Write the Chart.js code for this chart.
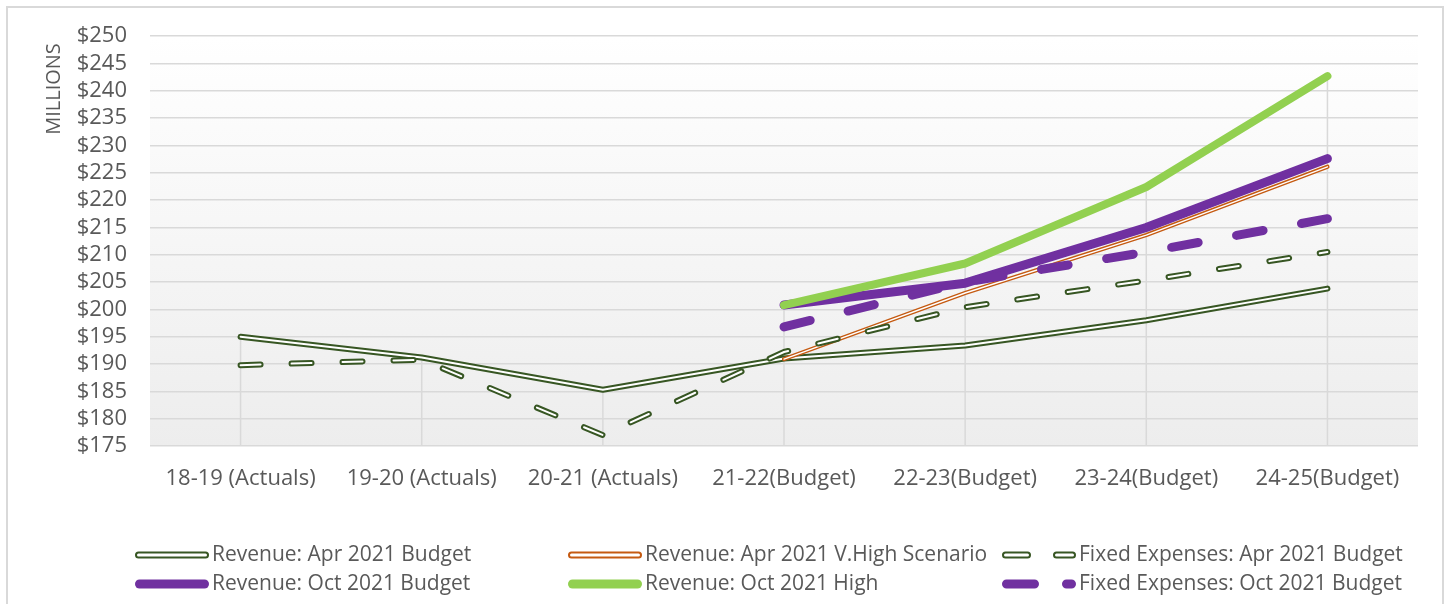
<!DOCTYPE html>
<html>
<head>
<meta charset="utf-8">
<script src="https://cdn.jsdelivr.net/npm/chart.js@4.4.1/dist/chart.umd.min.js"></script>
<style>
  html, body { margin: 0; padding: 0; background: #fff; overflow: hidden; }
  #wrap { position: relative; width: 1448px; height: 604px; }
  #frame { position: absolute; left: 6px; top: 6px; width: 1438px; height: 640px; border: 2px solid #d9d9d9; box-sizing: border-box; }
  canvas { position: absolute; left: 0; top: 0; }
</style>
</head>
<body>
<div id="wrap">
  <div id="frame"></div>
  <canvas id="revenueChart" width="1448" height="604"></canvas>
</div>
<script>
// Values in $ millions
var categories = ['18-19 (Actuals)', '19-20 (Actuals)', '20-21 (Actuals)', '21-22(Budget)', '22-23(Budget)', '23-24(Budget)', '24-25(Budget)'];
var seriesLabels = [
  'Revenue: Apr 2021 Budget',
  'Revenue: Apr 2021 V.High Scenario',
  'Fixed Expenses: Apr 2021 Budget',
  'Revenue: Oct 2021 Budget',
  'Revenue: Oct 2021 High',
  'Fixed Expenses: Oct 2021 Budget'
];
var revAprBudget = [195.0, 191.2, 185.3, 191.0, 193.4, 198.0, 203.8];
var revAprVHigh = [null, null, null, 190.9, 203.0, 213.6, 226.1];
var fixAprBudget = [189.8, 190.8, 177.0, 192.2, 200.4, 205.3, 210.5];
var revOctBudget = [null, null, null, 200.8, 204.8, 215.0, 227.6];
var revOctHigh = [null, null, null, 200.8, 208.4, 222.4, 242.7];
var fixOctBudget = [null, null, null, 196.8, 205.0, 210.5, 216.6];
var yTicks = { min: 175, max: 250, step: 5 };

var FONT = '"Open Sans", "Noto Sans", sans-serif';
var TEXT = '#595959';
var GRID = '#d9d9d9';

// line look per series: outer colour/width, optional white core (Excel double line), dash
var styles = [
  { color: '#375623', width: 6, inner: 2, dash: [], legendDash: [] },
  { color: '#c55a11', width: 4.2, inner: 1.4, dash: [], legendDash: [] },
  { color: '#375623', width: 6, inner: 2, dash: [20, 31], legendDash: [22, 29] },
  { color: '#7030a0', width: 9, inner: 0, dash: [], legendDash: [] },
  { color: '#92d050', width: 8, inner: 0, dash: [], legendDash: [] },
  { color: '#7030a0', width: 9, inner: 0, dash: [27, 39], legendDash: [28, 32] }
];
var allSeries = [revAprBudget, revAprVHigh, fixAprBudget, revOctBudget, revOctHigh, fixOctBudget];

function linePath(ctx, meta) {
  var started = false;
  ctx.beginPath();
  meta.data.forEach(function(pt) {
    if (pt.skip) return;
    if (!started) { ctx.moveTo(pt.x, pt.y); started = true; }
    else ctx.lineTo(pt.x, pt.y);
  });
}

var plotBackground = {
  id: 'plotBackground',
  beforeDraw: function(chart) {
    var a = chart.chartArea, ctx = chart.ctx;
    var g = ctx.createLinearGradient(0, a.top, 0, a.bottom);
    g.addColorStop(0, '#ffffff');
    g.addColorStop(1, '#ededed');
    ctx.save();
    ctx.fillStyle = g;
    ctx.fillRect(a.left, a.top, a.right - a.left, a.bottom - a.top);
    ctx.restore();
  }
};

// Excel drop lines: from the highest value of each category down to the axis
var dropLines = {
  id: 'dropLines',
  beforeDatasetsDraw: function(chart) {
    var ctx = chart.ctx, xs = chart.scales.x, ys = chart.scales.y;
    ctx.save();
    ctx.strokeStyle = GRID;
    ctx.lineWidth = 1.5;
    categories.forEach(function(c, i) {
      var top = null;
      allSeries.forEach(function(s) { if (s[i] != null && (top === null || s[i] > top)) top = s[i]; });
      if (top === null) return;
      var x = xs.getPixelForValue(i);
      ctx.beginPath();
      ctx.moveTo(x, ys.getPixelForValue(top));
      ctx.lineTo(x, chart.chartArea.bottom);
      ctx.stroke();
    });
    ctx.restore();
  }
};

// white core on top of the double lines
var doubleLine = {
  id: 'doubleLine',
  afterDatasetDraw: function(chart, args) {
    var st = styles[args.index];
    if (!st.inner) return;
    var ctx = chart.ctx;
    ctx.save();
    ctx.strokeStyle = '#ffffff';
    ctx.lineWidth = st.inner;
    ctx.lineCap = 'round';
    ctx.lineJoin = 'round';
    ctx.setLineDash(st.dash);
    linePath(ctx, args.meta);
    ctx.stroke();
    ctx.restore();
  }
};

function drawMarker(ctx, st, x0, y) {
  var len = 74;
  ctx.save();
  ctx.lineCap = 'round';
  ctx.setLineDash(st.legendDash);
  var w = st.inner ? 7 : 9;
  ctx.beginPath();
  ctx.moveTo(x0 + w / 2, y);
  ctx.lineTo(x0 + len - w / 2, y);
  ctx.strokeStyle = st.color;
  ctx.lineWidth = w;
  ctx.stroke();
  if (st.inner) {
    ctx.strokeStyle = '#ffffff';
    ctx.lineWidth = 3;
    ctx.stroke();
  }
  ctx.restore();
}

var gridLegend = {
  id: 'gridLegend',
  afterDraw: function(chart) {
    var ctx = chart.ctx;
    var colX = [135, 568, 1002];
    var rowY = [555, 584];
    ctx.save();
    ctx.font = '21px ' + FONT;
    ctx.textBaseline = 'middle';
    chart.data.datasets.forEach(function(ds, i) {
      var x = colX[i % 3], y = rowY[Math.floor(i / 3)];
      drawMarker(ctx, styles[i], x, y);
      ctx.fillStyle = TEXT;
      ctx.fillText(ds.label, x + 77, y);
    });
    ctx.restore();
  }
};

var unitLabel = {
  id: 'unitLabel',
  afterDraw: function(chart) {
    var ctx = chart.ctx;
    ctx.save();
    ctx.translate(54, 89);
    ctx.rotate(-Math.PI / 2);
    ctx.font = '20px ' + FONT;
    ctx.fillStyle = TEXT;
    ctx.textAlign = 'center';
    ctx.textBaseline = 'middle';
    ctx.fillText('MILLIONS', 0, 0);
    ctx.restore();
  }
};

function init() {
  var datasets = allSeries.map(function(s, i) {
    var st = styles[i];
    return {
      label: seriesLabels[i],
      data: s,
      borderColor: st.color,
      backgroundColor: st.color,
      borderWidth: st.width,
      borderDash: st.dash,
      borderCapStyle: 'round',
      borderJoinStyle: 'round',
      pointRadius: 0,
      tension: 0,
      fill: false,
      order: allSeries.length - i
    };
  });

  new Chart(document.getElementById('revenueChart').getContext('2d'), {
    type: 'line',
    data: { labels: categories, datasets: datasets },
    options: {
      responsive: false,
      animation: false,
      layout: { padding: { top: 36, right: 30, left: 0, bottom: 0 } },
      plugins: {
        legend: { display: false },
        title: { display: false },
        tooltip: { enabled: false }
      },
      scales: {
        x: {
          offset: true,
          grid: { display: false },
          border: { display: false },
          ticks: { color: TEXT, font: { family: FONT, size: 22 }, padding: 12, maxRotation: 0, autoSkip: false },
          afterFit: function(scale) { scale.height = 158; }
        },
        y: {
          min: yTicks.min,
          max: yTicks.max,
          border: { display: false },
          grid: { color: GRID, lineWidth: 1.5, drawTicks: false },
          ticks: {
            stepSize: yTicks.step,
            autoSkip: false,
            color: TEXT,
            font: { family: FONT, size: 22 },
            padding: 23,
            callback: function(v) { return '$' + v; }
          },
          afterFit: function(scale) { scale.width = 150; }
        }
      }
    },
    plugins: [plotBackground, dropLines, doubleLine, gridLegend, unitLabel]
  });
}

if (document.readyState === 'loading') {
  document.addEventListener('DOMContentLoaded', init);
} else {
  init();
}
</script>
</body>
</html>
